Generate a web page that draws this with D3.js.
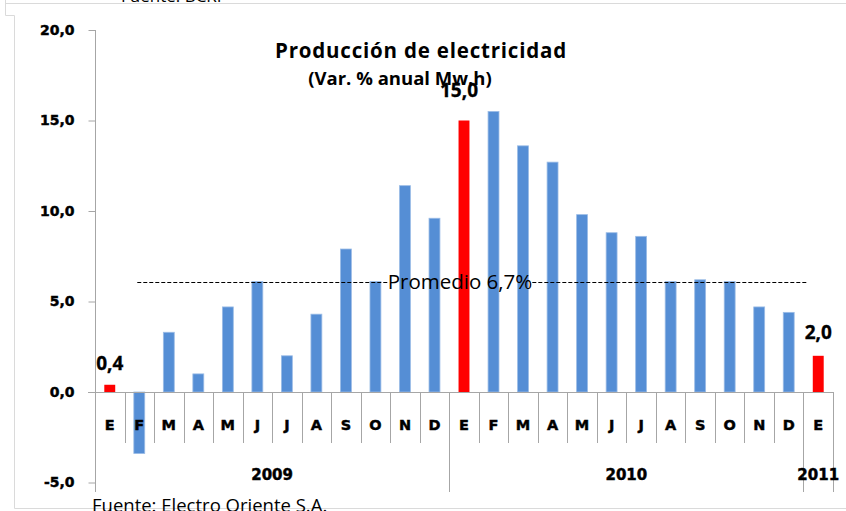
<!DOCTYPE html>
<html>
<head>
<meta charset="utf-8">
<script src="https://cdn.jsdelivr.net/npm/d3@7"></script>
<style>
  body { margin: 0; background: #fff; }
  svg { display: block; }
</style>
</head>
<body>
<svg width="846" height="511"></svg>
<script>
// monthly categories, Jan 2009 .. Jan 2011
const months = ['E', 'F', 'M', 'A', 'M', 'J', 'J', 'A', 'S', 'O', 'N', 'D',
                'E', 'F', 'M', 'A', 'M', 'J', 'J', 'A', 'S', 'O', 'N', 'D', 'E']
const values = [0.4, -3.4, 3.3, 1.0, 4.7, 6.1, 2.0, 4.3, 7.9, 6.1, 11.4, 9.6,
                15.0, 15.5, 13.6, 12.7, 9.8, 8.8, 8.6, 6.1, 6.2, 6.1, 4.7, 4.4, 2.0]
const labelled = [0, 12, 24]
const years = ['2009', '2010', '2011']
const yearStart = [0, 12, 24]
const yearEnd = [11, 23, 24]
const yTicks = [-5, 0, 5, 10, 15, 20]
const promedioLevel = 6.05
const promedioText = 'Promedio 6,7%'

const svg = d3.select('svg')
const grey = '#a6a6a6'
const comma = d => d.toFixed(1).replace('.', ',')

const x = d3.scaleBand()
  .domain(d3.range(months.length))
  .range([95, 833])
  .paddingInner(0.63)
  .paddingOuter(0.315)
const step = x.step()
const left = x.range()[0]
const y = d3.scaleLinear().domain([-5, 20]).range([482.5, 30])

// light frame lines of the original slide
const frame = svg.append('g').attr('stroke', '#dadada').attr('fill', 'none')
frame.append('path').attr('d', 'M5.5,0V15.5H14.5V508.5H846')
frame.append('path').attr('d', 'M5.5,3.5H846')
svg.append('text')
  .attr('x', 121).attr('y', 1.5)
  .attr('font-family', 'Open Sans').attr('font-size', 17)
  .text('Fuente: BCRP')

// bars
svg.append('g')
  .selectAll('rect')
  .data(values)
  .enter()
  .append('rect')
  .attr('x', (d, i) => x(i))
  .attr('width', x.bandwidth())
  .attr('y', d => y(Math.max(0, d)))
  .attr('height', d => Math.abs(y(d) - y(0)))
  .attr('fill', (d, i) => labelled.includes(i) ? '#ff0000' : '#558ed5')
  .attr('stroke', (d, i) => labelled.includes(i) ? 'none' : '#9bbce6')
  .attr('stroke-width', 0.8)

// heavy bold look for the axis texts
const heavy = sel => sel
  .attr('font-family', 'DejaVu Sans')
  .attr('font-weight', 'bold')
  .attr('fill', '#000')
  .attr('stroke', '#000')
  .attr('stroke-width', 0.45)

// y axis
const yAxis = d3.axisLeft(y)
  .tickValues(yTicks)
  .tickFormat(comma)
  .tickSize(7)
  .tickSizeOuter(0)
  .tickPadding(14)
const ya = svg.append('g')
  .attr('transform', `translate(${left + 0.5},0)`)
  .call(yAxis)
ya.select('.domain').remove()
ya.selectAll('line').attr('stroke', grey)
ya.selectAll('text').call(heavy).attr('font-size', 14)

// axis line + zero line
svg.append('line')
  .attr('x1', left + 0.5).attr('x2', left + 0.5)
  .attr('y1', y(20)).attr('y2', 492)
  .attr('stroke', grey)
svg.append('line')
  .attr('x1', left - 7).attr('x2', x.range()[1])
  .attr('y1', Math.round(y(0)) + 0.5).attr('y2', Math.round(y(0)) + 0.5)
  .attr('stroke', grey)

// category separators
const bounds = d3.range(1, months.length + 1)
svg.append('g')
  .selectAll('line')
  .data(bounds)
  .enter()
  .append('line')
  .attr('x1', i => Math.round(left + i * step) + 0.5)
  .attr('x2', i => Math.round(left + i * step) + 0.5)
  .attr('y1', y(0))
  .attr('y2', i => (yearStart.includes(i) || i === months.length) ? 492 : 443)
  .attr('stroke', grey)

// month labels
svg.append('g')
  .selectAll('text')
  .data(months)
  .enter()
  .append('text')
  .attr('x', (d, i) => x(i) + x.bandwidth() / 2)
  .attr('y', 430)
  .attr('text-anchor', 'middle')
  .call(heavy)
  .attr('font-size', 14.5)
  .text(d => d)

// year labels
svg.append('g')
  .selectAll('text')
  .data(years)
  .enter()
  .append('text')
  .attr('x', (d, i) => left + (yearStart[i] + yearEnd[i] + 1) / 2 * step)
  .attr('y', 480)
  .attr('text-anchor', 'middle')
  .call(heavy)
  .attr('font-size', 15)
  .text(d => d)

// average line, broken around its label
const py = Math.round(y(promedioLevel)) + 0.5
const ptext = svg.append('text')
  .attr('x', 460)
  .attr('y', py + 6.5)
  .attr('text-anchor', 'middle')
  .attr('font-family', 'Open Sans')
  .attr('font-size', 20.5)
  .text(promedioText)
const pb = ptext.node().getBBox()
const segs = [[x(1) + x.bandwidth() / 2 - 2, pb.x], [pb.x + pb.width, x(24) - 6]]
svg.append('g')
  .selectAll('line')
  .data(segs)
  .enter()
  .append('line')
  .attr('x1', d => d[0]).attr('x2', d => d[1])
  .attr('y1', py).attr('y2', py)
  .attr('stroke', '#000')
  .attr('stroke-dasharray', '4,2')

// data labels on red bars
const lift = [15, 24, 17]
const shift = [0, -5, 0]
svg.append('g')
  .selectAll('text')
  .data(labelled)
  .enter()
  .append('text')
  .attr('x', (d, k) => x(d) + x.bandwidth() / 2 + shift[k])
  .attr('y', (d, k) => y(values[d]) - lift[k])
  .attr('text-anchor', 'middle')
  .attr('font-family', 'Open Sans')
  .attr('font-weight', 'bold')
  .attr('font-size', 19)
  .attr('stroke', '#000')
  .attr('stroke-width', 0.3)
  .text(d => comma(values[d]))

// title
const title = svg.append('g')
  .attr('font-family', 'Open Sans')
  .attr('font-weight', 'bold')
  .attr('text-anchor', 'middle')
title.append('text').attr('x', 421).attr('y', 58)
  .attr('font-size', 20.5)
  .attr('letter-spacing', 0.8)
  .text('Producción de electricidad')
title.append('text').attr('x', 400).attr('y', 85)
  .attr('font-size', 18.5)
  .text('(Var. % anual Mw.h)')

// source
svg.append('text')
  .attr('x', 92).attr('y', 511.5)
  .attr('font-family', 'Open Sans')
  .attr('font-size', 18.5)
  .text('Fuente: Electro Oriente S.A.')
</script>
</body>
</html>
